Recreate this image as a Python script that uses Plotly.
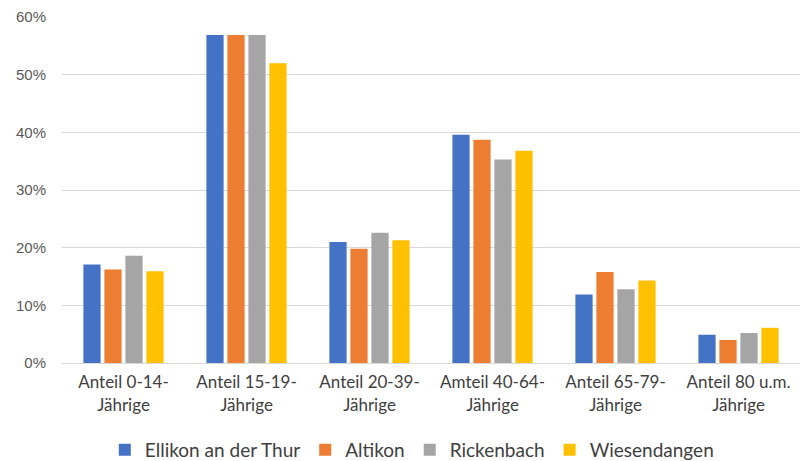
import plotly.graph_objects as go

categories = [
    "Anteil 0-14-<br>Jährige",
    "Anteil 15-19-<br>Jährige",
    "Anteil 20-39-<br>Jährige",
    "Amteil 40-64-<br>Jährige",
    "Anteil 65-79-<br>Jährige",
    "Anteil 80 u.m.<br>Jährige",
]

ellikon = [0.171, 0.569, 0.210, 0.396, 0.119, 0.049]
altikon = [0.162, 0.569, 0.198, 0.387, 0.158, 0.040]
rickenbach = [0.186, 0.569, 0.226, 0.353, 0.128, 0.052]
wiesendangen = [0.159, 0.520, 0.213, 0.368, 0.143, 0.061]

series = [
    ("Ellikon an der Thur", ellikon, "#4472C4"),
    ("Altikon", altikon, "#ED7D31"),
    ("Rickenbach", rickenbach, "#A5A5A5"),
    ("Wiesendangen", wiesendangen, "#FFC000"),
]

fig = go.Figure()
for name, vals, color in series:
    fig.add_trace(go.Bar(x=categories, y=vals, name=name, marker_color=color,
                         marker_line_width=0))

fig.update_layout(
    width=803, height=461,
    margin=dict(l=62, r=3, t=17, b=98, autoexpand=False),
    paper_bgcolor="white", plot_bgcolor="white",
    barmode="group", bargap=0.317, bargroupgap=0.18,
    font=dict(family="Lato, sans-serif", color="#404040"),
    legend=dict(orientation="h", x=0.474, xanchor="center", y=-0.251, yanchor="middle",
                font=dict(size=19, color="#404040"), itemwidth=30,
                traceorder="normal"),
    showlegend=True,
)
fig.update_xaxes(showline=True, linecolor="#D9D9D9", linewidth=1, ticks="",
                 tickfont=dict(size=17, color="#404040"), showgrid=False,
                 ticklabelstandoff=4)
fig.update_yaxes(range=[0, 0.6], dtick=0.1, tickformat=".0%", showgrid=True,
                 gridcolor="#D9D9D9", gridwidth=1, zeroline=False,
                 tickfont=dict(family="Liberation Sans, Arial, sans-serif", size=15,
                               color="#595959"),
                 ticklabelstandoff=15)

fig.write_html("out.html")
